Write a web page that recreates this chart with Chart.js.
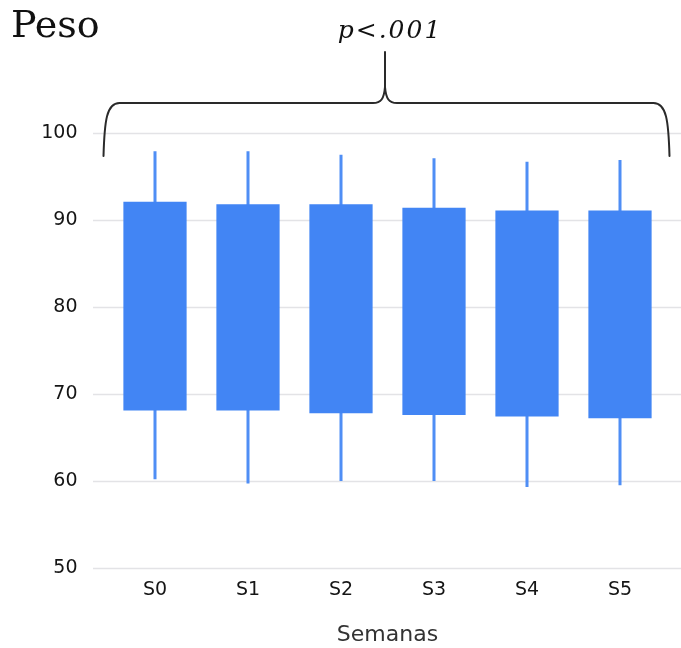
<!DOCTYPE html>
<html>
<head>
<meta charset="utf-8">
<script src="https://cdn.jsdelivr.net/npm/chart.js@4/dist/chart.umd.min.js"></script>
<style>
html,body{margin:0;padding:0;background:#fff;}
#wrap{width:681px;height:648px;position:relative;}
</style>
</head>
<body>
<div id="wrap"><canvas id="c" width="681" height="648"></canvas></div>
<script>
const categories = ['S0','S1','S2','S3','S4','S5'];
const whiskerMin = [60.2, 59.7, 60.0, 60.0, 59.3, 59.5];
const whiskerMax = [97.9, 97.9, 97.5, 97.1, 96.7, 96.9];
const boxLow    = [68.1, 68.1, 67.8, 67.6, 67.4, 67.2];
const boxHigh   = [92.1, 91.8, 91.8, 91.4, 91.1, 91.1];
const yTicks = [50, 60, 70, 80, 90, 100];
const chartTitle = 'Peso';
const pLabel = 'p<.001';
const xTitle = 'Semanas';

const whiskerData = categories.map((c, i) => [whiskerMin[i], whiskerMax[i]]);
const boxData = categories.map((c, i) => [boxLow[i], boxHigh[i]]);

const decor = {
  id: 'decor',
  beforeDatasetsDraw(chart) {
    const ctx = chart.ctx, y = chart.scales.y;
    ctx.save();
    ctx.strokeStyle = '#e3e3e6';
    ctx.lineWidth = 1.5;
    yTicks.forEach(v => {
      const py = Math.round(y.getPixelForValue(v)) + 0.5;
      ctx.beginPath();
      ctx.moveTo(93, py);
      ctx.lineTo(chart.width, py);
      ctx.stroke();
    });
    ctx.restore();
  },
  afterDraw(chart) {
    const ctx = chart.ctx, ca = chart.chartArea;
    ctx.save();
    ctx.fillStyle = '#111';
    ctx.textBaseline = 'alphabetic';
    ctx.font = '38px "DejaVu Serif"';
    ctx.textAlign = 'left';
    ctx.fillText(chartTitle, 11, 37);
    ctx.font = 'italic 25px "DejaVu Serif"';
    ctx.letterSpacing = '2px';
    ctx.textAlign = 'center';
    ctx.fillText(pLabel, 390, 38);
    ctx.letterSpacing = '0px';
    // brace
    const L = ca.left - 5, R = ca.right + 3, M = 385;
    const top = 103, bot = 156, peak = 52;
    ctx.strokeStyle = '#2a2a2a';
    ctx.lineWidth = 2;
    ctx.lineJoin = 'round';
    ctx.lineCap = 'round';
    ctx.beginPath();
    ctx.moveTo(L, bot);
    ctx.bezierCurveTo(L + 1, top + 18, L + 3, top, L + 16, top);
    ctx.lineTo(M - 12, top);
    ctx.bezierCurveTo(M - 4, top, M - 1, top - 4, M, top - 16);
    ctx.lineTo(M, peak);
    ctx.moveTo(M, top - 16);
    ctx.bezierCurveTo(M + 1, top - 4, M + 4, top, M + 12, top);
    ctx.lineTo(R - 16, top);
    ctx.bezierCurveTo(R - 3, top, R - 1, top + 18, R, bot);
    ctx.stroke();
    ctx.restore();
  }
};

new Chart(document.getElementById('c'), {
  type: 'bar',
  data: {
    labels: categories,
    datasets: [
      {
        label: 'rango',
        data: whiskerData,
        backgroundColor: '#4f8ef5',
        borderWidth: 0,
        grouped: false,
        maxBarThickness: 3,
        order: 2
      },
      {
        label: 'caja',
        data: boxData,
        backgroundColor: '#4285F4',
        borderWidth: 0,
        grouped: false,
        barPercentage: 0.68,
        categoryPercentage: 1,
        order: 1
      }
    ]
  },
  options: {
    responsive: false,
    animation: false,
    layout: { padding: { top: 133, right: 14.5, left: 0, bottom: 0 } },
    plugins: { legend: { display: false }, tooltip: { enabled: false }, title: { display: false } },
    scales: {
      x: {
        grid: { display: false, drawTicks: false },
        border: { display: false },
        ticks: { color: '#151515', font: { family: '"DejaVu Sans"', size: 19 }, padding: 11 },
        title: { display: true, text: xTitle, color: '#333', font: { family: '"DejaVu Sans"', size: 22 }, padding: { top: 10, bottom: 0 } },
        afterFit(s) { s.height = 80; }
      },
      y: {
        min: 50, max: 100,
        afterBuildTicks(s) { s.ticks = yTicks.map(v => ({ value: v })); },
        grid: { display: false, drawTicks: false },
        border: { display: false },
        ticks: { color: '#151515', font: { family: '"DejaVu Sans"', size: 19 }, padding: 31 },
        afterFit(s) { s.width = 108.5; }
      }
    }
  },
  plugins: [decor]
});
</script>
</body>
</html>
